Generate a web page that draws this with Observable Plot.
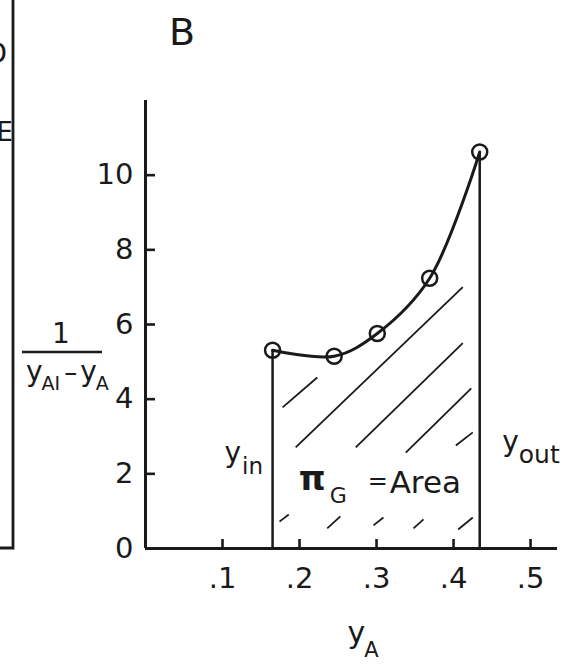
<!DOCTYPE html>
<html>
<head>
<meta charset="utf-8">
<script src="https://cdn.jsdelivr.net/npm/d3@7"></script>
<script src="https://cdn.jsdelivr.net/npm/@observablehq/plot@0.6"></script>
<style>
  html, body { margin: 0; padding: 0; background: #fff; }
  #chart { position: relative; width: 574px; height: 664px; overflow: hidden; }
  #chart svg { display: block; }
</style>
</head>
<body>
<div id="chart"></div>
<script>
// Gas-phase mole fraction y_A and the reciprocal driving force 1/(y_Ai - y_A)
const yA = [0.165, 0.245, 0.301, 0.369, 0.434];
const invDriving = [5.31, 5.15, 5.76, 7.24, 10.62];

// Integration limits
const limitNames = ["in", "out"];
const limitX = [0.165, 0.434];
const limitTop = [5.31, 10.62];

// Axis ticks
const xTicks = [0.1, 0.2, 0.3, 0.4, 0.5];
const xTickLabels = [".1", ".2", ".3", ".4", ".5"];
const yTicks = [0, 2, 4, 6, 8, 10];

// Hand-drawn hatching under the curve (segment ends in y_A, 1/(y_Ai - y_A))
const hatchX1 = [0.178, 0.195, 0.273, 0.338, 0.403, 0.174, 0.236, 0.296, 0.348, 0.406];
const hatchY1 = [3.78, 2.71, 2.71, 2.57, 2.76, 0.72, 0.54, 0.62, 0.54, 0.51];
const hatchX2 = [0.223, 0.412, 0.412, 0.423, 0.425, 0.186, 0.253, 0.309, 0.361, 0.425];
const hatchY2 = [4.58, 7.00, 5.50, 4.29, 3.11, 0.91, 0.86, 0.83, 0.78, 0.83];

const points = yA.map((x, i) => ({x, y: invDriving[i]}));
const limits = limitNames.map((name, i) => ({name, x: limitX[i], y: limitTop[i]}));
const hatch = hatchX1.map((x1, i) => ({x1, y1: hatchY1[i], x2: hatchX2[i], y2: hatchY2[i]}));

const ink = "#1a1a1a";
const font = "DejaVu Sans";

const chart = Plot.plot({
  width: 574,
  height: 664,
  marginLeft: 145,
  marginRight: 17,
  marginTop: 100,
  marginBottom: 116,
  x: {domain: [0, 0.535]},
  y: {domain: [0, 12]},
  style: {fontFamily: font, fontSize: "29px", color: ink, background: "#fff"},
  marks: [
    // hatching of the integral area
    Plot.link(hatch, {x1: "x1", y1: "y1", x2: "x2", y2: "y2", stroke: ink, strokeWidth: 1.8}),
    // integration limits
    Plot.ruleX(limits, {x: "x", y1: 0, y2: "y", stroke: ink, strokeWidth: 2.5}),
    // axes lines
    Plot.ruleX([0], {stroke: ink, strokeWidth: 3}),
    Plot.ruleY([0], {stroke: ink, strokeWidth: 3}),
    // inward ticks
    Plot.ruleY(yTicks.filter(d => d > 0), {y: d => d, x1: 0, x2: 0, insetRight: -10, stroke: ink, strokeWidth: 2.6}),
    Plot.ruleX(xTicks, {x: d => d, y1: 0, y2: 0, insetTop: -9, stroke: ink, strokeWidth: 2.6}),
    Plot.axisY(yTicks, {tickSize: 0, tickPadding: 12, label: null, fontSize: 29}),
    Plot.axisX(xTicks, {tickSize: 0, tickPadding: 19, label: null, fontSize: 29,
      tickFormat: d => xTickLabels[xTicks.indexOf(d)]}),
    // the curve and measured points
    Plot.line(points, {x: "x", y: "y", curve: "catmull-rom", stroke: ink, strokeWidth: 3}),
    Plot.dot(points, {x: "x", y: "y", r: 7.5, fill: "none", stroke: ink, strokeWidth: 2.5})
  ]
});

document.getElementById("chart").appendChild(chart);

const svg = d3.select(chart);
const sx = chart.scale("x");
const sy = chart.scale("y");
const X = v => sx.apply(v);
const Y = v => sy.apply(v);

function label(x, y, parts, anchor = "start", weight = "normal") {
  const t = svg.append("text")
    .attr("x", x).attr("y", y)
    .attr("text-anchor", anchor)
    .attr("font-family", font)
    .attr("font-weight", weight)
    .attr("fill", ink);
  let shift = 0;
  for (const p of parts) {
    const s = t.append("tspan").text(p.text).attr("font-size", p.size);
    const d = (p.sub || 0) - shift;
    if (d) s.attr("dy", d);
    shift = p.sub || 0;
    if (p.dx) s.attr("dx", p.dx);
  }
  return t;
}

// panel letter
label(X(0) + 24, 45, [{text: "B", size: 38}]);

// edge of the neighbouring panel
svg.append("path")
  .attr("d", `M13,0V${Y(0)}H0`)
  .attr("fill", "none").attr("stroke", ink).attr("stroke-width", 2.8);
label(7, 63, [{text: "D", size: 28}], "end");
label(13, 141, [{text: "E", size: 26}], "end");

// y axis label: 1 / (y_AI - y_A)
const barY = Y(5.25);
label(61, barY - 9, [{text: "1", size: 28}], "middle");
svg.append("line")
  .attr("x1", 22).attr("x2", 102).attr("y1", barY).attr("y2", barY)
  .attr("stroke", ink).attr("stroke-width", 2.6);
label(26, barY + 29, [
  {text: "y", size: 28},
  {text: "AI", size: 19, sub: 9, dx: -1},
  {text: "–", size: 26, sub: 0, dx: 4},
  {text: "y", size: 28, dx: 3},
  {text: "A", size: 19, sub: 9, dx: -1}
]);

// limits
label(X(limitX[0]) - 9, Y(2.3), [
  {text: "y", size: 28},
  {text: "in", size: 23, sub: 12, dx: 1}
], "end");
label(X(limitX[1]) + 23, Y(2.6), [
  {text: "y", size: 28},
  {text: "out", size: 25, sub: 12, dx: 0}
]);

// area annotation
const cx = X((limitX[0] + limitX[1]) / 2);
const ay = Y(1.48);
label(cx - 77, ay - 3, [{text: "π", size: 34}], "start", "bold");
label(cx - 46, ay + 10, [{text: "G", size: 22}]);
label(cx - 8, ay - 4, [{text: "=", size: 24}]);
label(cx + 14, ay, [{text: "Area", size: 31}]);

// x axis label
label(X(0.263), Y(0) + 95, [
  {text: "y", size: 30},
  {text: "A", size: 21, sub: 14, dx: -1}
]);
</script>
</body>
</html>
